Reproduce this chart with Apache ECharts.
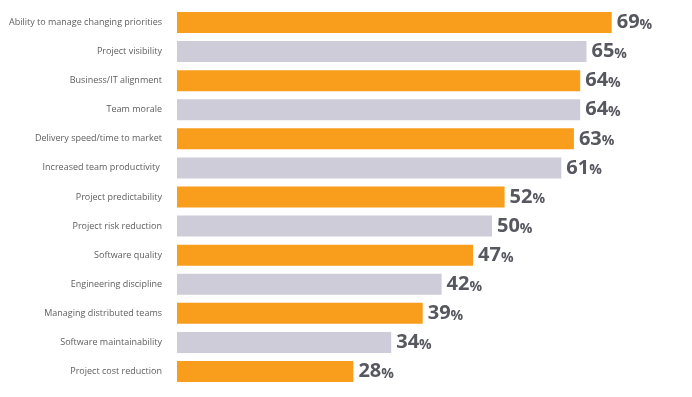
<!DOCTYPE html>
<html>
<head>
<meta charset="utf-8">
<script src="https://cdn.jsdelivr.net/npm/echarts@6/dist/echarts.min.js"></script>
<style>
  html, body { margin: 0; padding: 0; background: #fff; }
  #chart { width: 692px; height: 397px; }
</style>
</head>
<body>
<div id="chart"></div>
<script>
const categories = [
  'Ability to manage changing priorities',
  'Project visibility',
  'Business/IT alignment',
  'Team morale',
  'Delivery speed/time to market',
  'Increased team productivity ',
  'Project predictability',
  'Project risk reduction',
  'Software quality',
  'Engineering discipline',
  'Managing distributed teams',
  'Software maintainability',
  'Project cost reduction'
]
const values = [69, 65, 64, 64, 63, 61, 52, 50, 47, 42, 39, 34, 28]

const orange = '#F99D1C'
const gray = '#CDCCD8'

const chart = echarts.init(document.getElementById('chart'))
chart.setOption({
  animation: false,
  grid: {
    left: 177,
    right: 11,
    top: 8,
    bottom: 11,
    containLabel: false,
    outerBoundsMode: 'none'
  },
  xAxis: {
    type: 'value',
    min: 0,
    max: 80,
    show: false
  },
  yAxis: {
    type: 'category',
    inverse: true,
    data: categories,
    axisLine: { show: false },
    axisTick: { show: false },
    axisLabel: {
      color: '#5E5E5E',
      fontFamily: 'Open Sans',
      fontSize: 9,
      margin: 15
    }
  },
  series: [
    {
      type: 'bar',
      barWidth: 21,
      data: values.map((v, i) => ({
        value: v,
        itemStyle: { color: i % 2 === 0 ? orange : gray }
      })),
      label: {
        show: true,
        position: 'right',
        distance: 5,
        formatter: (p) => '{v|' + p.value + '}{p|%}',
        rich: {
          v: {
            fontFamily: 'Open Sans',
            fontSize: 20,
            fontWeight: 'bold',
            color: '#56575F'
          },
          p: {
            fontFamily: 'Open Sans',
            fontSize: 14,
            fontWeight: 'bold',
            color: '#56575F',
            padding: [5, 0, 0, 0]
          }
        }
      }
    }
  ]
})
</script>
</body>
</html>
